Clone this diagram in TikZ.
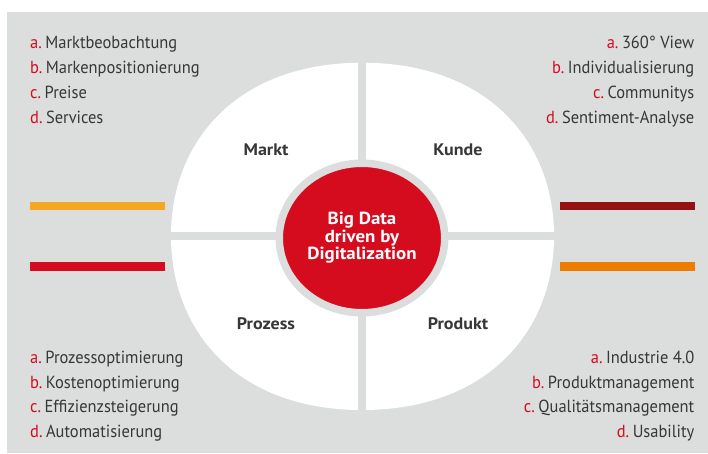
\documentclass[tikz,border=0pt]{standalone}
\usepackage{fontspec}
\setmainfont{PT Sans}
\newfontfamily\listfont[FakeStretch=0.94]{PT Sans}
\newfontfamily\headfont[FakeStretch=1.08]{PT Sans}
\usetikzlibrary{shapes,positioning}
\definecolor{bggray}{RGB}{220,221,221}
\definecolor{dbred}{RGB}{213,12,30}
\definecolor{dbdark}{RGB}{150,18,18}
\definecolor{dbamber}{RGB}{245,166,35}
\definecolor{dborange}{RGB}{237,125,0}
\definecolor{txtgray}{RGB}{55,55,55}
\newcommand{\punkt}[2]{{\color{dbred}#1.}\hspace{3.5pt}#2}

\begin{document}
\begin{tikzpicture}[x=1pt, y=-1pt]
  \tikzstyle{liste}=[font=\listfont\fontsize{17.5}{20}\selectfont, text=txtgray, inner sep=0pt]
  \tikzstyle{feld}=[font=\headfont\fontsize{16.7}{19}\selectfont\bfseries, text=txtgray]
  \tikzstyle{gap}=[draw=bggray, line width=8.5pt]

  % Hintergrund
  \fill[white] (0,0) rectangle (708,453);
  \fill[bggray] (7,12) rectangle (708,453);

  % Vier Felder
  \fill[white] (362,62.7) .. controls (237.8,62.7) and (171,140.7) .. (171,236)
    .. controls (171,331.7) and (237.8,410) .. (362,410)
    .. controls (486.8,410) and (554,331.7) .. (554,236)
    .. controls (554,140.7) and (486.8,62.7) .. (362,62.7) -- cycle;
  \draw[gap] (362,50) -- (362,420);
  \draw[gap] (160,236) -- (564,236);

  % Kern
  \node[ellipse, fill=dbred, draw=bggray, line width=7.5pt, minimum width=165.5pt,
    minimum height=149.5pt, inner sep=0pt, text=white, align=center,
    font=\headfont\fontsize{17.5}{17.5}\selectfont\bfseries] (kern) at (362,238) {Big Data\\driven by\\Digitalization};

  % Felder
  \node[feld] (markt) at (266,150) {Markt};
  \node[feld] (kunde) at (458,150) {Kunde};
  \node[feld] (prozess) at (266,324) {Prozess};
  \node[feld] (produkt) at (458,324) {Produkt};

  % Balken
  \fill[dbamber] (30,201.7) rectangle (164.5,210);
  \fill[dbred] (30,262.3) rectangle (164.5,270.7);
  \fill[dbdark] (560,201.7) rectangle (695,210);
  \fill[dborange] (560,262.3) rectangle (695,270.7);

  % Listen oben
  \node[liste, anchor=base west] (m1) at (30,48.3) {\punkt{a}{Marktbeobachtung}};
  \node[liste, anchor=base west] (m2) at (30,73.3) {\punkt{b}{Markenpositionierung}};
  \node[liste, anchor=base west] (m3) at (30,98.3) {\punkt{c}{Preise}};
  \node[liste, anchor=base west] (m4) at (30,123.3) {\punkt{d}{Services}};
  \node[liste, anchor=base east] (k1) at (694.5,48.3) {\punkt{a}{360° View}};
  \node[liste, anchor=base east] (k2) at (694.5,73.3) {\punkt{b}{Individualisierung}};
  \node[liste, anchor=base east] (k3) at (694.5,98.3) {\punkt{c}{Communitys}};
  \node[liste, anchor=base east] (k4) at (694.5,123.3) {\punkt{d}{Sentiment-Analyse}};

  % Listen unten
  \node[liste, anchor=base west] (p1) at (30,363.3) {\punkt{a}{Prozessoptimierung}};
  \node[liste, anchor=base west] (p2) at (30,388) {\punkt{b}{Kostenoptimierung}};
  \node[liste, anchor=base west] (p3) at (30,412.5) {\punkt{c}{Effizienzsteigerung}};
  \node[liste, anchor=base west] (p4) at (30,437) {\punkt{d}{Automatisierung}};
  \node[liste, anchor=base east] (d1) at (694.5,363.3) {\punkt{a}{Industrie 4.0}};
  \node[liste, anchor=base east] (d2) at (694.5,388) {\punkt{b}{Produktmanagement}};
  \node[liste, anchor=base east] (d3) at (694.5,412.5) {\punkt{c}{Qualitätsmanagement}};
  \node[liste, anchor=base east] (d4) at (694.5,437) {\punkt{d}{Usability}};
\end{tikzpicture}
\end{document}
